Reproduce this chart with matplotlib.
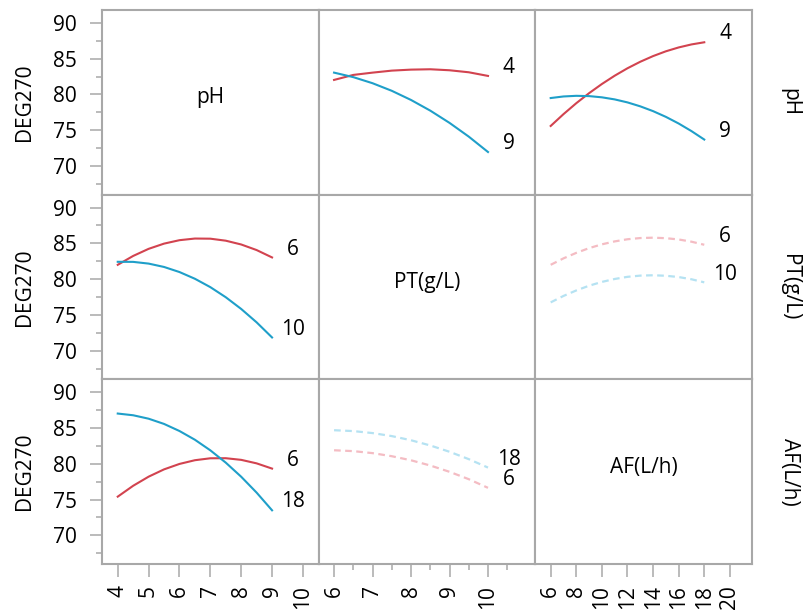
import matplotlib.pyplot as plt
from matplotlib.ticker import MultipleLocator, NullLocator, FixedLocator

plt.rcParams['font.family'] = ['Open Sans', 'DejaVu Sans']

# factor settings along each axis
ph_grid = [4, 4.5, 5, 5.5, 6, 6.5, 7, 7.5, 8, 8.5, 9]
pt_grid = [6, 6.5, 7, 7.5, 8, 8.5, 9, 9.5, 10]
af_grid = [6, 7, 8, 9, 10, 11, 12, 13, 14, 15, 16, 17, 18]

# DEG270 vs PT at pH = 4 / 9
deg_pt_ph4 = [82.03, 82.73, 83.05, 83.33, 83.47, 83.52, 83.38, 83.10, 82.59]
deg_pt_ph9 = [83.05, 82.42, 81.57, 80.51, 79.23, 77.74, 76.03, 74.11, 71.96]
# DEG270 vs AF at pH = 4 / 9
deg_af_ph4 = [75.60, 77.25, 78.78, 80.18, 81.46, 82.62, 83.66, 84.57, 85.36, 86.03, 86.57, 86.99, 87.29]
deg_af_ph9 = [79.50, 79.72, 79.81, 79.77, 79.60, 79.31, 78.89, 78.34, 77.67, 76.87, 75.94, 74.88, 73.70]
# DEG270 vs pH at PT = 6 / 10
deg_ph_pt6 = [82.00, 83.24, 84.23, 84.96, 85.44, 85.67, 85.65, 85.37, 84.84, 84.06, 83.03]
deg_ph_pt10 = [82.42, 82.41, 82.17, 81.70, 80.99, 80.05, 78.88, 77.47, 75.83, 73.96, 71.85]
# DEG270 vs AF at PT = 6 / 10
deg_af_pt6 = [82.00, 82.90, 83.67, 84.33, 84.86, 85.27, 85.57, 85.74, 85.79, 85.72, 85.54, 85.23, 84.80]
deg_af_pt10 = [76.75, 77.65, 78.42, 79.08, 79.61, 80.02, 80.32, 80.49, 80.54, 80.47, 80.29, 79.98, 79.55]
# DEG270 vs pH at AF = 6 / 18
deg_ph_af6 = [75.41, 76.93, 78.20, 79.22, 79.98, 80.50, 80.77, 80.78, 80.55, 80.06, 79.33]
deg_ph_af18 = [87.02, 86.78, 86.30, 85.57, 84.58, 83.36, 81.88, 80.16, 78.19, 75.97, 73.50]
# DEG270 vs PT at AF = 6 / 18
deg_pt_af6 = [81.89, 81.77, 81.49, 81.06, 80.49, 79.76, 78.88, 77.85, 76.64]
deg_pt_af18 = [84.69, 84.57, 84.29, 83.87, 83.29, 82.56, 81.68, 80.65, 79.47]

factors = ['pH', 'PT(g/L)', 'AF(L/h)']
response = 'DEG270'

# tick positions of each factor axis
ph_ticks = [4, 5, 6, 7, 8, 9, 10]
pt_ticks = [6, 7, 8, 9, 10]
pt_minor = [6.5, 7.5, 8.5, 9.5, 10.5]
af_ticks = [6, 8, 10, 12, 14, 16, 18, 20]

RED = '#d2434f'
BLUE = '#1f9fc9'
RED_FADE = '#f4bcc3'
BLUE_FADE = '#b5e2f2'
FRAME = '#a8a8a8'

# (row, col): x grid, low-level curve, high-level curve, labels, faded/dashed
panels = {
    (0, 1): (pt_grid, deg_pt_ph4, deg_pt_ph9, '4', '9', False),
    (0, 2): (af_grid, deg_af_ph4, deg_af_ph9, '4', '9', False),
    (1, 0): (ph_grid, deg_ph_pt6, deg_ph_pt10, '6', '10', False),
    (1, 2): (af_grid, deg_af_pt6, deg_af_pt10, '6', '10', True),
    (2, 0): (ph_grid, deg_ph_af6, deg_ph_af18, '6', '18', False),
    (2, 1): (pt_grid, deg_pt_af6, deg_pt_af18, '6', '18', True),
}

xlims = [(3.49, 10.51), (5.6, 11.23), (4.8, 21.73)]
xmajor = [ph_ticks, pt_ticks, af_ticks]
xminor = [None, pt_minor, None]

fig, axes = plt.subplots(3, 3, figsize=(8.09, 6.12), dpi=100)
fig.subplots_adjust(left=102 / 809, right=752 / 809, top=1 - 10 / 612,
                    bottom=1 - 564 / 612, wspace=0, hspace=0)

for r in range(3):
    for c in range(3):
        ax = axes[r, c]
        ax.set_xlim(*xlims[c])
        ax.set_ylim(66.0, 91.8)
        for s in ax.spines.values():
            s.set_color(FRAME)
            s.set_linewidth(1.5)

        ax.yaxis.set_major_locator(MultipleLocator(5))
        ax.yaxis.set_minor_locator(MultipleLocator(2.5))
        ax.xaxis.set_major_locator(FixedLocator(xmajor[c]))
        if xminor[c]:
            ax.xaxis.set_minor_locator(FixedLocator(xminor[c]))
        else:
            ax.xaxis.set_minor_locator(NullLocator())

        ax.tick_params(axis='both', which='major', length=9, width=1.1,
                       color=FRAME, labelsize=15, pad=6)
        ax.tick_params(axis='both', which='minor', length=4.5, width=1.1,
                       color=FRAME)
        ax.tick_params(axis='y', which='major', pad=9)

        if c == 0:
            ax.set_ylabel(response, fontsize=15)
            ax.yaxis.set_label_coords(-0.31, 0.5)
        else:
            ax.tick_params(axis='y', which='both', left=False, labelleft=False)
        if r == 2:
            ax.tick_params(axis='x', labelrotation=90)
        else:
            ax.tick_params(axis='x', which='both', bottom=False, labelbottom=False)

        if r == c:
            ax.text(0.5, 0.525, factors[r], transform=ax.transAxes,
                    ha='center', va='center', fontsize=15)

        if (r, c) in panels:
            xs, lo, hi, lo_lab, hi_lab, faded = panels[(r, c)]
            if faded:
                ax.plot(xs, lo, color=RED_FADE, lw=1.6, ls=(0, (3, 2)))
                ax.plot(xs, hi, color=BLUE_FADE, lw=1.6, ls=(0, (3, 2)))
            else:
                ax.plot(xs, lo, color=RED, lw=1.5)
                ax.plot(xs, hi, color=BLUE, lw=1.5)
            for ys, lab in ((lo, lo_lab), (hi, hi_lab)):
                ax.annotate(lab, (xs[-1], ys[-1]), xytext=(15, 6),
                            textcoords='offset points', ha='center',
                            va='center', fontsize=15)

    axes[r, 2].text(1.175, 0.5, factors[r], transform=axes[r, 2].transAxes,
                    rotation=-90, ha='center', va='center', fontsize=15)

fig.savefig('out.png', dpi=100)
